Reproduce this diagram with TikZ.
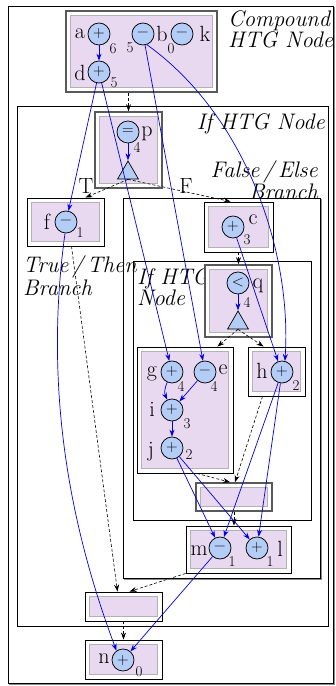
\documentclass[tikz,border=0pt]{standalone}
\usepackage{fontspec}
\usetikzlibrary{shapes.geometric,arrows.meta,fit,calc}
\definecolor{lav}{HTML}{E8D8F0}
\definecolor{opblue}{HTML}{B4CDF6}
\definecolor{flow}{HTML}{0000E0}

% block: style, name, x1, y1, x2, y2 (outer frame plus lavender body)
\newcommand\htgblock[6]{%
  \node[#1, fit={(#3,#4) (#5,#6)}] (#2) {};
  \node[blkin, fit={($(#3,#4)+(4.5,4.5)$) ($(#5,#6)+(-4.5,-4.5)$)}] (#2in) {};
}

\begin{document}
\begin{tikzpicture}[x=1pt,y=-1pt,
  op/.style={circle, draw=black, line width=0.75pt, fill=opblue, minimum size=22pt,
    inner sep=0pt, font=\fontsize{16}{16}\selectfont},
  tri/.style={regular polygon, regular polygon sides=3, minimum size=24pt, inner sep=0pt,
    draw=black, line width=0.7pt, fill=opblue},
  lbl/.style={inner sep=0pt, font=\fontsize{22}{22}\selectfont},
  sub/.style={inner sep=0pt, font=\fontsize{15}{15}\selectfont},
  hd/.style={inner sep=0pt, font=\fontsize{22.5}{#1}\selectfont\itshape},
  region/.style={draw=black, line width=0.8pt, inner sep=0pt},
  blkthick/.style={draw=black!65, line width=1.6pt, inner sep=0pt, fill=white},
  blkthin/.style={draw=black, line width=0.9pt, inner sep=0pt, fill=white},
  blkin/.style={draw=black!30, line width=1pt, fill=lav, inner sep=0pt},
  df/.style={draw=flow, line width=0.7pt, -{Stealth[length=7pt,width=5pt]}},
  cf/.style={draw=black, dash pattern=on 3pt off 2pt, line width=0.6pt,
    -{Stealth[length=7pt,width=5pt]}},
  shade/.style={draw=black!45, line width=1.4pt}
]
\useasboundingbox (0,0) rectangle (336,686);

% nested regions
\node[region, fit={(8,6) (333,683)}] (frame) {};
\draw[shade] ($(frame.north east)+(1,1)$) |- ($(frame.south west)+(1,1)$);
\node[region, fit={(17,106) (328,626)}] (ifo) {};
\node[region, fit={(123,198) (320,578)}] (fls) {};
\draw[shade] ($(fls.north east)+(1,1)$) |- ($(fls.south west)+(1,1)$);
\node[region, fit={(133,261) (311,520)}] (ifi) {};

% region titles
\node[hd=21, anchor=north west, align=left] (tcmp) at (228,10) {Compound\\HTG Node};
\node[hd=22, anchor=north east] (tifo) at (325,113) {If HTG Node};
\node[hd=18, anchor=north east, align=right] (tfls) at (318,160) {False\,/\,Else\\Branch};
\node[hd=23, anchor=north west, align=left] (ttru) at (23,255) {True\,/\,Then\\Branch};
\node[hd=20, anchor=north west, align=left] (tifi) at (137,268) {If HTG\\Node};

% blocks
\htgblock{blkthick}{A}{66}{11}{217}{92}
\htgblock{blkthick}{P}{95}{112}{162}{188}
\htgblock{blkthin}{fB}{27}{198}{104}{246}
\htgblock{blkthin}{cB}{204}{202}{273}{252}
\htgblock{blkthick}{qB}{205}{265}{272}{337}
\htgblock{blkthin}{gB}{137}{347}{233}{473}
\htgblock{blkthin}{hB}{248}{347}{305}{396}
\htgblock{blkthick}{mi}{196}{483}{272}{511}
\htgblock{blkthin}{mlB}{186}{526}{291}{573}
\htgblock{blkthin}{om}{85}{592}{162}{621}
\htgblock{blkthin}{nB}{85}{640}{162}{679}

% operations
\node[op] (a) at (99,34) {+};
\node[op] (d) at (99,72) {+};
\node[op] (b) at (143,34) {−};
\node[op] (k) at (182,34) {−};
\node[op] (p) at (128,132) {=};
\node[tri] (pt) at (128,173) {};
\node[op] (f) at (66,222) {−};
\node[op] (c) at (233,227) {+};
\node[op] (q) at (238,283) {<};
\node[tri] (qt) at (238,323) {};
\node[op] (g) at (172,372) {+};
\node[op] (e) at (205,372) {−};
\node[op] (i) at (172,410) {+};
\node[op] (j) at (172,448) {+};
\node[op] (h) at (282,372) {+};
\node[op] (m) at (220,548) {−};
\node[op] (l) at (257,548) {+};
\node[op] (n) at (123,660) {+};

% names
\node[lbl] (la) at (80,34) {a};
\node[lbl] (ld) at (80,73) {d};
\node[lbl] (lb) at (162,34) {b};
\node[lbl] (lk) at (205,34) {k};
\node[lbl] (lp) at (147,134) {p};
\node[lbl] (lf) at (47,222) {f};
\node[lbl] (lc) at (253,220) {c};
\node[lbl] (lq) at (258,286) {q};
\node[lbl] (lg) at (152,374) {g};
\node[lbl] (le) at (223,370) {e};
\node[lbl] (li) at (152,409) {i};
\node[lbl] (lj) at (151,452) {j};
\node[lbl] (lh) at (262,371) {h};
\node[lbl] (lm) at (199,551) {m};
\node[lbl] (ll) at (280,549) {l};
\node[lbl] (ln) at (104,659) {n};

% levels
\node[sub] (sa) at (113,49) {6};
\node[sub] (sd) at (114,83) {5};
\node[sub] (sb) at (130,48) {5};
\node[sub] (sk) at (171,49) {0};
\node[sub] (sp) at (137,147) {4};
\node[sub] (sf) at (80,233) {1};
\node[sub] (sc) at (247,240) {3};
\node[sub] (sq) at (247,302) {4};
\node[sub] (sg) at (181,386) {4};
\node[sub] (se) at (214,386) {4};
\node[sub] (si) at (187,424) {3};
\node[sub] (sj) at (189,455) {2};
\node[sub] (sh) at (296,386) {2};
\node[sub] (sm) at (232,562) {1};
\node[sub] (sl) at (270,562) {1};
\node[sub] (sn) at (139,672) {0};

% branch labels
\node[lbl] (lT) at (86,186) {T};
\node[lbl] (lF) at (186,186) {F};

% control flow
\draw[cf] (A.south -| P.north) -- (P.north);
\draw[cf] (pt.south) -- ($(fB.north)+(20,0)$);
\draw[cf] (pt.south) -- ($(cB.north)+(-8,0)$);
\draw[cf] (cB.south) -- (qB.north);
\draw[cf] (qt.south) -- ($(gB.north east)+(-16,0)$);
\draw[cf] (qt.south) -- ($(hB.north west)+(16,0)$);
\draw[cf] ($(gB.south)+(12,0)$) -- ($(mi.north)+(-4,0)$);
\draw[cf] ($(hB.south)+(-14,0)$) -- ($(mi.north)+(1,0)$);
\draw[cf] (mi.south) -- (mi.south |- mlB.north);
\draw[cf] ($(fB.south)+(6,0)$) -- ($(om.north)+(-6,0)$);
\draw[cf] (mlB.south west) -- ($(om.north)+(6,0)$);
\draw[cf] (om.south) -- (nB.north);

% data flow
\draw[df] (a) -- (d);
\draw[df] (d) -- (f);
\draw[df] (d) -- (g);
\draw[df] (b) -- (e);
\draw[df] (b.290) .. controls (245,115) and (292,250) .. (h.75);
\draw[df] (c) -- (h.110);
\draw[df] (p) -- (pt.north);
\draw[df] (q) -- (qt.north);
\draw[df] (g) to[bend right=25] (i);
\draw[df] (e) -- (i);
\draw[df] (i) -- (j);
\draw[df] (j) -- (m);
\draw[df] (j) -- (l);
\draw[df] (h) -- (m);
\draw[df] (h) -- (l);
\draw[df] (m) -- (n);
\draw[df] (f.265) .. controls (42,400) and (75,540) .. (n.125);
\end{tikzpicture}
\end{document}
